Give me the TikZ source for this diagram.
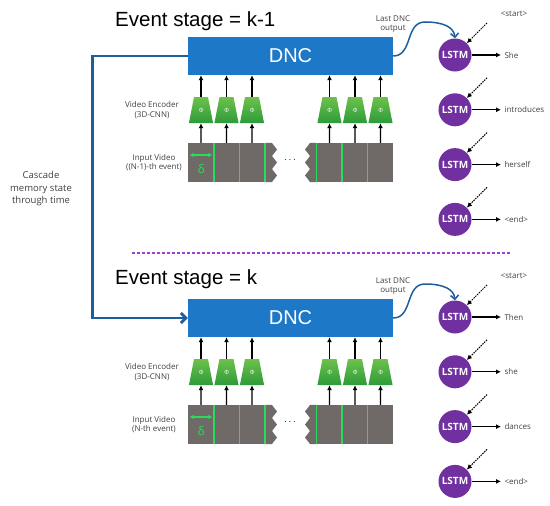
\documentclass[tikz,border=0pt]{standalone}
\usepackage{fontspec}
\setmainfont{Open Sans}
\newfontfamily\arialfont{Liberation Sans}
\usetikzlibrary{arrows.meta, shapes.geometric, calc}

\definecolor{dncblue}{HTML}{1E78C8}
\definecolor{cascblue}{HTML}{1F5E9C}
\definecolor{lstmpurple}{HTML}{7030A0}
\definecolor{framegray}{HTML}{6F6A67}
\definecolor{framegreen}{HTML}{2BDC5A}
\definecolor{enctop}{HTML}{6CC24A}
\definecolor{encbottom}{HTML}{2E9B3A}
\definecolor{labelgray}{HTML}{404040}
\definecolor{divpurple}{HTML}{A040D0}

\begin{document}
\begin{tikzpicture}[x=1pt, y=-1pt,
  dnc/.style={fill=dncblue, minimum width=205pt, minimum height=38pt, inner sep=0pt,
    text=white, font=\arialfont\fontsize{20}{24}\selectfont},
  enc/.style={trapezium, trapezium angle=79, inner xsep=4.75pt, inner ysep=11pt,
    text width=4.5pt, text height=4pt, text depth=0pt, align=center,
    top color=enctop, bottom color=encbottom, text=white, font=\fontsize{6}{6}\selectfont},
  frame/.style={fill=framegray, minimum width=25.5pt, minimum height=39pt, inner sep=0pt},
  lstm/.style={circle, fill=lstmpurple, minimum size=33pt, inner sep=0pt, text=white,
    font=\bfseries\fontsize{10}{12}\selectfont},
  small/.style={text=labelgray, font=\fontsize{8}{9.5}\selectfont, align=center},
  arr/.style={-{Latex[length=5pt,width=5pt]}, line width=1.3pt},
  dotarr/.style={arr, line width=1pt, dash pattern=on 1.5pt off 1pt},
  vline/.style={draw=framegreen, line width=1.5pt},
  cascade/.style={draw=cascblue, line width=2.8pt, -{Straight Barb[length=5pt,width=10pt]}},
  curvearr/.style={draw=cascblue, line width=1.5pt, -{Straight Barb[length=4pt,width=8pt]}}]
\useasboundingbox (0,0) rectangle (550,506);

\foreach \s/\dy/\tb/\ttl/\ev/\words in {1/0/27/k-1/(N-1)/{She,introduces,herself,<end>},
                                          2/262/22/k/N/{Then,she,dances,<end>}}{
\begin{scope}[yshift=-\dy pt]
  \node[anchor=base west, inner sep=0pt, font=\arialfont\fontsize{20.5}{24}\selectfont]
    (title\s) at (115,\tb) {Event stage = \ttl};
  \node[dnc] (dnc\s) at (290.5,56) {DNC};

  % video frames and encoders
  \foreach \x [count=\i] in {201,226.5,252,329.5,355,380.5}{
    \node[frame] (f\s\i) at (\x,162.5) {};
    \node[enc] (e\s\i) at (\x,110) {Φ};
    \draw[arr] (f\s\i.north) -- (e\s\i.south);
    \draw[arr] (e\s\i.north) -- (e\s\i.north |- dnc\s.south);
  }
  \fill[framegray] (f\s3.north east) -- (272,143) -- (277,149.5) -- (272,156) -- (277,162.5)
    -- (272,169) -- (277,175.5) -- (272,182) -- (f\s3.south east) -- cycle;
  \fill[framegray] (f\s4.north west) -- (310,143) -- (305,149.5) -- (310,156) -- (305,162.5)
    -- (310,169) -- (305,175.5) -- (310,182) -- (f\s4.south west) -- cycle;
  \foreach \i/\a in {1/east,2/east,3/east,4/west,5/west,6/west}
    \draw[vline] (f\s\i.north \a) -- (f\s\i.south \a);
  \node (dots\s) at (290,160) {$\cdots$};
  \draw[framegreen, line width=1.2pt, {Latex[length=4pt,width=4.5pt]}-{Latex[length=4pt,width=4.5pt]}]
    ([shift={(1.5,-7.5)}]f\s1.west) -- ([shift={(-1.5,-7.5)}]f\s1.east);
  \node[text=framegreen, font=\fontsize{12}{12}\selectfont] (delta\s) at (201,169) {δ};

  \node[small] (encl\s) at (152,110) {Video Encoder\\(3D-CNN)};
  \node[small] (vidl\s) at (154,162.5) {Input Video\\(\ev-th event)};
  \node[small] (last\s) at (393,24) {Last DNC\\output};
  \node[small] (start\s) at (514,14) {<start>};

  % decoder
  \foreach \word [count=\i] in \words{
    \node[lstm] (l\s\i) at (455,{55+54.8*(\i-1)}) {LSTM};
    \node[small, anchor=west] (w\s\i) at (501,{55+54.8*(\i-1)}) {\word};
    \draw[arr] (l\s\i.east) -- (w\s\i.west);
    \coordinate (d\s\i) at (487,{23+54.8*(\i-1)});
    \draw[dotarr] (d\s\i) -- (l\s\i.45);
  }
  \draw[curvearr] (dnc\s.east) .. controls (413,56) and (405,22) .. (425,22)
    .. controls (443,22) and (454,27) .. (l\s1.north);
\end{scope}}

\draw[cascade] (dnc1.west) -- ++(-95,0) |- (dnc2.west);
\node[small, font=\fontsize{9.5}{12.5}\selectfont] (casc) at (41,189) {Cascade\\memory state\\through time};
\draw[divpurple, line width=1.3pt, dash pattern=on 3pt off 2pt] (132,253) -- (510,253);
\end{tikzpicture}
\end{document}
